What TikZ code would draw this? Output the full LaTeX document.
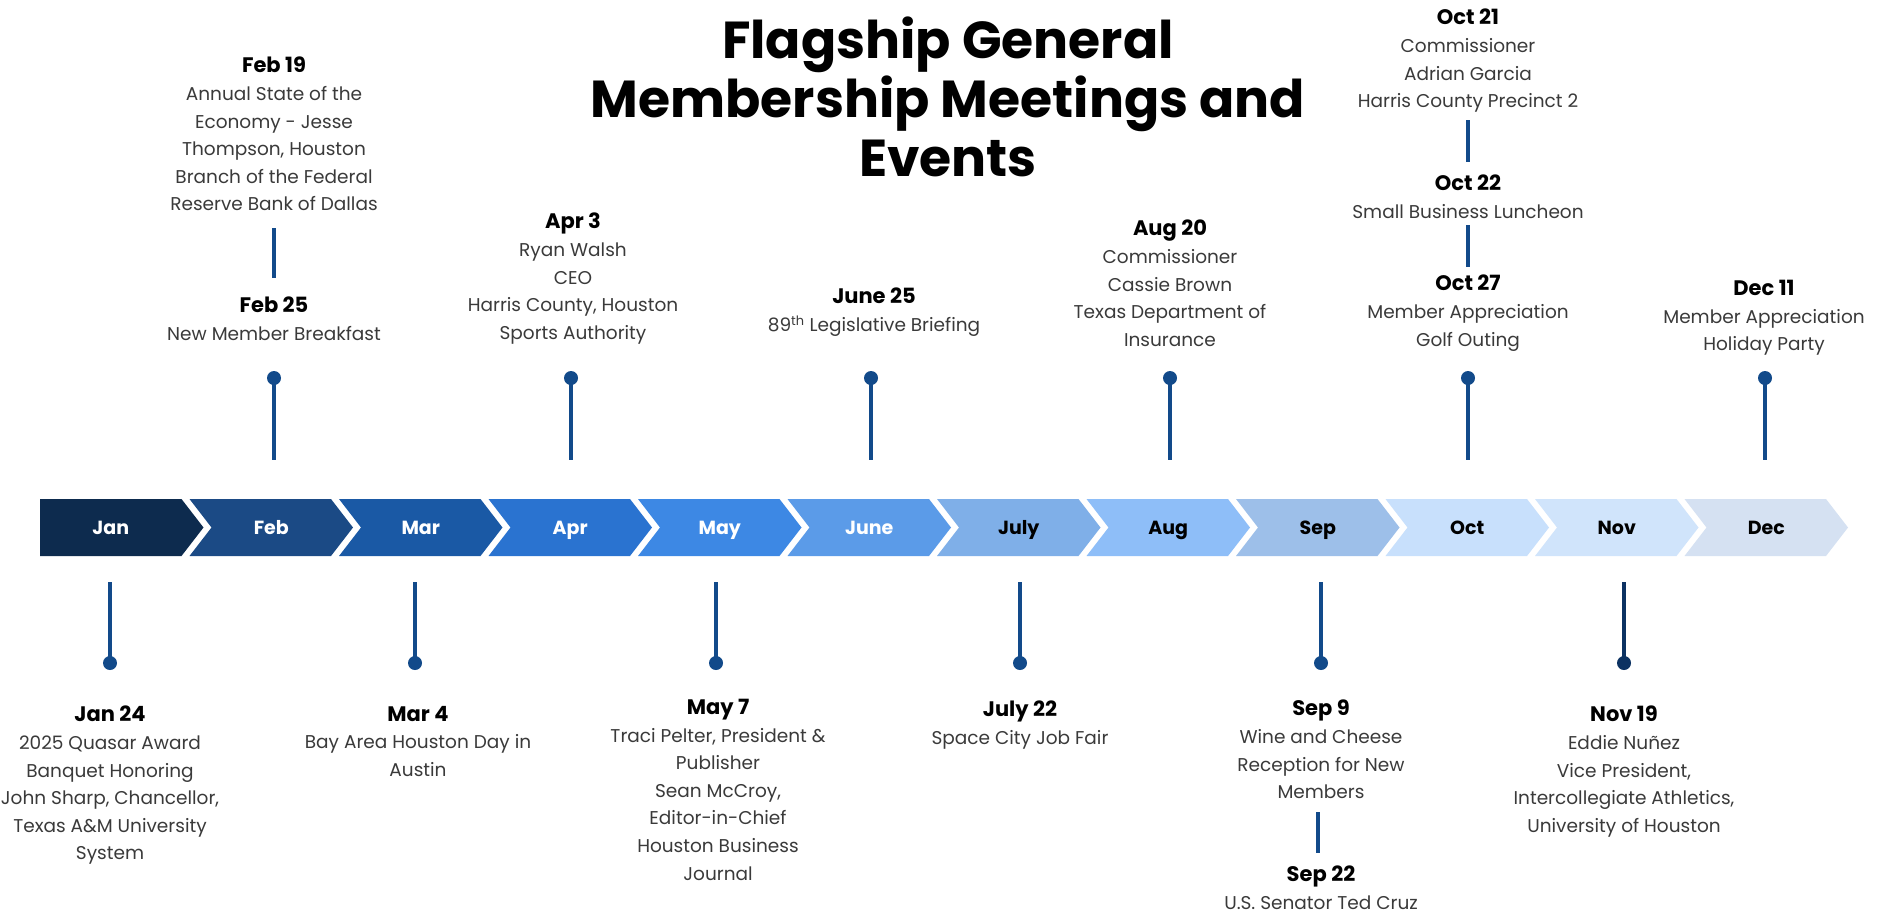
\documentclass[tikz,border=0pt]{standalone}
\usepackage{fontspec}
\setmainfont{Poppins}
\definecolor{cJan}{HTML}{0D2B4E}
\definecolor{cFeb}{HTML}{1B4A85}
\definecolor{cMar}{HTML}{1A59A5}
\definecolor{cApr}{HTML}{2A73D0}
\definecolor{cMay}{HTML}{3D88E4}
\definecolor{cJun}{HTML}{5B9BE8}
\definecolor{cJul}{HTML}{7FAFE8}
\definecolor{cAug}{HTML}{8EBEF8}
\definecolor{cSep}{HTML}{9DBFE9}
\definecolor{cOct}{HTML}{C8E0FC}
\definecolor{cNov}{HTML}{D0E4FB}
\definecolor{cDec}{HTML}{D5E1F2}
\definecolor{pinblue}{HTML}{124A8A}
\definecolor{pindark}{HTML}{0C3262}
\definecolor{bodygray}{HTML}{3A3A3A}
\newcommand\evdate[1]{{\fontsize{21}{27.6}\selectfont\bfseries\color{black}#1}}
\tikzset{
  evt/.style={align=center, anchor=north, inner sep=0pt, text=bodygray,
    font=\fontsize{18.5}{27.6}\selectfont},
  month/.style={inner sep=0pt, anchor=base, font=\fontsize{19}{22}\selectfont\bfseries},
  stem/.style={draw=pinblue, line width=3.5pt},
  dot/.style={circle, fill=pinblue, inner sep=0pt, minimum size=14pt},
  title/.style={align=center, anchor=north, inner sep=0pt, text=black,
    font=\fontsize{52}{59}\selectfont\bfseries}
}
\begin{document}
\begin{tikzpicture}[x=1pt,y=-1pt]
\useasboundingbox (0,0) rectangle (1881,914);
\fill[white] (0,0) rectangle (1881,914);

% title
\node[title] (title) at (948,17) {Flagship General\\Membership Meetings and\\Events};

% chevrons
\foreach \i/\m/\c/\t in {0/Jan/cJan/white,1/Feb/cFeb/white,2/Mar/cMar/white,
  3/Apr/cApr/white,4/May/cMay/white,5/June/cJun/white,6/July/cJul/black,
  7/Aug/cAug/black,8/Sep/cSep/black,9/Oct/cOct/black,10/Nov/cNov/black,11/Dec/cDec/black}{
  \pgfmathsetmacro\L{40+\i*149.5}
  \pgfmathsetmacro\R{\L+141.5}
  \ifnum\i=0
    \fill[\c] (\L,499) -- (\R,499) -- (\R+22,527.5) -- (\R,556) -- (\L,556) -- cycle;
    \pgfmathsetmacro\C{(\L+\R)/2}
  \else
    \fill[\c] (\L,499) -- (\R,499) -- (\R+22,527.5) -- (\R,556) -- (\L,556) -- (\L+22,527.5) -- cycle;
    \pgfmathsetmacro\C{(\L+22+\R)/2}
  \fi
  \node[month, text=\t] (m\m) at (\C,534) {\m};
}

% upper pins
\foreach \n/\x in {Feb/274,Apr/571,Jun/871,Aug/1170,Oct/1468,Dec/1765}{
  \node[dot] (d\n) at (\x,378) {};
  \coordinate (s\n) at (\x,460);
  \draw[stem] (d\n.center) -- (s\n);
}
% lower pins
\foreach \n/\x/\c in {Jan/110/pinblue,Mar/415/pinblue,May/716/pinblue,Jul/1020/pinblue,Sep/1321/pinblue,Nov/1624/pindark}{
  \node[dot, fill=\c] (d\n) at (\x,663) {};
  \coordinate (s\n) at (\x,582);
  \draw[stem, draw=\c] (s\n) -- (d\n.center);
}

% upper events
\node[evt] (feb19) at (274,57) {\evdate{Feb 19}\\Annual State of the\\Economy - Jesse\\Thompson, Houston\\Branch of the Federal\\Reserve Bank of Dallas};
\node[evt] (feb25) at (274,297) {\evdate{Feb 25}\\New Member Breakfast};
\coordinate (fa) at (274,228); \coordinate (fb) at (274,278);
\draw[stem] (fa) -- (fb);

\node[evt] (apr3) at (573,213) {\evdate{Apr 3}\\Ryan Walsh\\CEO\\Harris County, Houston\\Sports Authority};
\node[evt] (jun25) at (874,288) {\evdate{June 25}\\89\textsuperscript{th} Legislative Briefing};
\node[evt] (aug20) at (1170,220) {\evdate{Aug 20}\\Commissioner\\Cassie Brown\\Texas Department of\\Insurance};

\node[evt] (oct21) at (1468,9) {\evdate{Oct 21}\\Commissioner\\Adrian Garcia\\Harris County Precinct 2};
\node[evt] (oct22) at (1468,175) {\evdate{Oct 22}\\Small Business Luncheon};
\node[evt] (oct27) at (1468,275) {\evdate{Oct 27}\\Member Appreciation\\Golf Outing};
\coordinate (oa) at (1468,120); \coordinate (ob) at (1468,162);
\coordinate (oc) at (1468,225); \coordinate (od) at (1468,267);
\draw[stem] (oa) -- (ob);
\draw[stem] (oc) -- (od);

\node[evt] (dec11) at (1764,280) {\evdate{Dec 11}\\Member Appreciation\\Holiday Party};

% lower events
\node[evt] (jan24) at (110,706) {\evdate{Jan 24}\\2025 Quasar Award\\Banquet Honoring\\John Sharp, Chancellor,\\Texas A\&M University\\System};
\node[evt] (mar4) at (418,706) {\evdate{Mar 4}\\Bay Area Houston Day in\\Austin};
\node[evt] (may7) at (718,699) {\evdate{May 7}\\Traci Pelter, President \&\\Publisher\\Sean McCroy,\\Editor-in-Chief\\Houston Business\\Journal};
\node[evt] (jul22) at (1020,701) {\evdate{July 22}\\Space City Job Fair};
\node[evt] (sep9) at (1321,700) {\evdate{Sep 9}\\Wine and Cheese\\Reception for New\\Members};
\node[evt] (sep22) at (1321,866) {\evdate{Sep 22}\\U.S. Senator Ted Cruz};
\coordinate (sa) at (1318,812); \coordinate (sb) at (1318,853);
\draw[stem] (sa) -- (sb);
\node[evt] (nov19) at (1624,706) {\evdate{Nov 19}\\Eddie Nuñez\\Vice President,\\Intercollegiate Athletics,\\University of Houston};
\end{tikzpicture}
\end{document}
